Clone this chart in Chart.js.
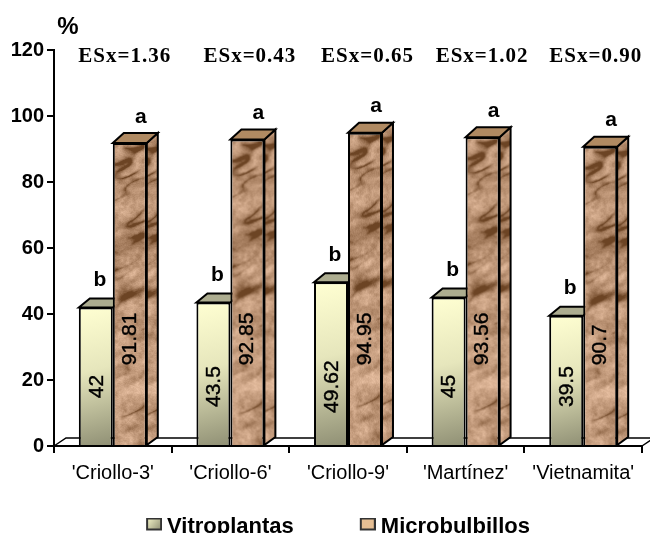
<!DOCTYPE html>
<html>
<head>
<meta charset="utf-8">
<style>
  html, body { margin: 0; padding: 0; background: #fff; overflow: hidden; }
  canvas { display: block; }
</style>
<script src="https://cdn.jsdelivr.net/npm/chart.js@4"></script>
</head>
<body>
<canvas id="myChart" width="650" height="533"></canvas>
<script>
const categories = ["'Criollo-3'", "'Criollo-6'", "'Criollo-9'", "'Martínez'", "'Vietnamita'"]
const vitroValues = [42, 43.5, 49.62, 45, 39.5]
const microValues = [91.81, 92.85, 94.95, 93.56, 90.7]
const vitroLetters = ['b', 'b', 'b', 'b', 'b']
const microLetters = ['a', 'a', 'a', 'a', 'a']
const esxLabels = ['ESx=1.36', 'ESx=0.43', 'ESx=0.65', 'ESx=1.02', 'ESx=0.90']

const SANS = '"Liberation Sans", Arial, sans-serif'
const SERIF = '"Liberation Serif", "Times New Roman", serif'
const DEPTH_X = 11
const DEPTH_Y = 9
const esxShift = [12, 19.5, 19.5, 16.5, 12.5]

// stone look for the Microbulbillos bars, same tile in every bar
function hash(x, y) {
    const s = Math.sin(x * 127.1 + y * 311.7) * 43758.5453
    return s - Math.floor(s)
}

function noise(x, y) {
    const ix = Math.floor(x), iy = Math.floor(y)
    let fx = x - ix, fy = y - iy
    fx = fx * fx * (3 - 2 * fx)
    fy = fy * fy * (3 - 2 * fy)
    const a = hash(ix, iy), b = hash(ix + 1, iy), c = hash(ix, iy + 1), d = hash(ix + 1, iy + 1)
    return a + (b - a) * fx + (c - a) * fy + (a - b - c + d) * fx * fy
}

function makeStone(w, h) {
    const c = document.createElement('canvas')
    c.width = w
    c.height = h
    const g = c.getContext('2d')
    const img = g.createImageData(w, h)
    for (let y = 0; y < h; y++) {
        for (let x = 0; x < w; x++) {
            // lean the coords so the dark smudges run down to the right
            const u = x * 0.85 - y * 0.45
            const v = y * 0.9 + x * 0.45
            const big = noise(u / 22, v / 11)
            const mid = noise(u / 10 + 7, v / 6)
            const fine = noise(x / 3, y / 3)
            const mask = Math.max(0, noise(u / 18 + 3, v / 16 + 9) - 0.45) * 2.6
            const smudge = Math.pow(1 - Math.abs(noise(u / 20 + 11, v / 8) * 2 - 1), 4) * mask
            const grain = hash(x, y)
            let t = 0.2 + big * 0.38 + mid * 0.28 + fine * 0.2 - smudge * 0.9 + (grain - 0.5) * 0.12
            t = Math.min(1, Math.max(0, t))
            const i = (x + y * w) * 4
            img.data[i] = 108 + t * 132
            img.data[i + 1] = 68 + t * 132
            img.data[i + 2] = 36 + t * 134
            img.data[i + 3] = 255
        }
    }
    g.putImageData(img, 0, 0)
    return c
}

const stone = makeStone(64, 330)

function stoneFill(chart, left, top) {
    const p = chart.ctx.createPattern(stone, 'repeat')
    p.setTransform(new DOMMatrix().translate(left, top))
    return p
}

// legend swatch, box sits right and high in the image so it lines up with the text
function makeSwatch(paint) {
    const c = document.createElement('canvas')
    c.width = 22
    c.height = 19
    const g = c.getContext('2d')
    paint(g)
    g.fillRect(7, 1, 14, 11)
    g.lineWidth = 2
    g.strokeStyle = '#333'
    g.strokeRect(7, 1, 14, 11)
    return c
}

const vitroSwatch = makeSwatch(g => {
    const f = g.createLinearGradient(7, 1, 21, 12)
    f.addColorStop(0, '#f4f4c8')
    f.addColorStop(1, '#8f8f74')
    g.fillStyle = f
})
const microSwatch = makeSwatch(g => { g.fillStyle = '#e6bf94' })

function face(ctx, pts, fill) {
    ctx.beginPath()
    pts.forEach((p, i) => i ? ctx.lineTo(p[0], p[1]) : ctx.moveTo(p[0], p[1]))
    ctx.closePath()
    ctx.fillStyle = fill
    ctx.fill()
    ctx.lineWidth = 2
    ctx.strokeStyle = '#000'
    ctx.stroke()
}

const floorAndDepth = {
    id: 'floorAndDepth',
    afterLayout(chart) {
        const l = chart.legend
        l.top = 516 - l.options.labels.padding
        l.left += 17
        l.right += 17
    },
    beforeDatasetsDraw(chart) {
        const ctx = chart.ctx
        const area = chart.chartArea
        ctx.save()
        // floor, runs past the canvas on the right like the picture
        ctx.beginPath()
        ctx.moveTo(area.left, area.bottom)
        ctx.lineTo(area.left + 12, area.bottom - 8)
        ctx.lineTo(area.right + 12, area.bottom - 8)
        ctx.lineTo(area.right, area.bottom)
        ctx.lineWidth = 1.5
        ctx.strokeStyle = '#000'
        ctx.stroke()
        chart.data.datasets.forEach((ds, d) => {
            chart.getDatasetMeta(d).data.forEach(bar => {
                const l = bar.x - bar.width / 2
                const r = bar.x + bar.width / 2
                const t = bar.y
                const b = bar.base
                if (d == 1) {
                    face(ctx, [[r, t], [r + DEPTH_X, t - DEPTH_Y - 1], [r + DEPTH_X, b - 8], [r, b]], stoneFill(chart, r - 16, t))
                    face(ctx, [[l, t], [l + DEPTH_X, t - DEPTH_Y - 1], [r + DEPTH_X, t - DEPTH_Y - 1], [r, t]], '#b08a62')
                } else {
                    face(ctx, [[l, t], [l + DEPTH_X, t - DEPTH_Y], [r + DEPTH_X, t - DEPTH_Y], [r, t]], '#adad90')
                }
            })
        })
        ctx.restore()
    },
    afterDatasetsDraw(chart) {
        const ctx = chart.ctx
        const y = chart.scales.y
        ctx.save()
        ctx.fillStyle = '#000'
        ctx.strokeStyle = '#000'
        ctx.lineWidth = 0.4
        ctx.textBaseline = 'middle'
        vitroValues.forEach((v, i) => {
            const bar = chart.getDatasetMeta(0).data[i]
            ctx.save()
            ctx.translate(bar.x + 1, y.getPixelForValue(18))
            ctx.rotate(-Math.PI / 2)
            ctx.textAlign = 'center'
            ctx.font = '21px ' + SANS
            ctx.fillText(String(v), 0, 0)
            ctx.strokeText(String(v), 0, 0)
            ctx.restore()
            ctx.textAlign = 'center'
            ctx.font = 'bold 21px ' + SANS
            ctx.fillText(vitroLetters[i], bar.x + 4, bar.y - 27)
        })
        microValues.forEach((v, i) => {
            const bar = chart.getDatasetMeta(1).data[i]
            ctx.save()
            ctx.translate(bar.x, y.getPixelForValue(24.5))
            ctx.rotate(-Math.PI / 2)
            ctx.textAlign = 'left'
            ctx.font = '21px ' + SANS
            ctx.fillText(String(v), 0, 0)
            ctx.strokeText(String(v), 0, 0)
            ctx.restore()
            ctx.textAlign = 'center'
            ctx.font = 'bold 21px ' + SANS
            ctx.fillText(microLetters[i], bar.x + 11, bar.y - 26)
        })
        ctx.font = 'bold 21px ' + SERIF
        ctx.letterSpacing = '1px'
        esxLabels.forEach((s, i) => {
            ctx.fillText(s, chart.scales.x.getPixelForValue(i) + esxShift[i], 57)
        })
        ctx.letterSpacing = '0px'
        ctx.font = 'bold 24px ' + SANS
        ctx.fillText('%', 68, 27)
        ctx.restore()
    }
}

const data = {
    labels: categories,
    datasets: [{
        label: 'Vitroplantas',
        data: vitroValues,
        backgroundColor: c => {
            const chart = c.chart
            if (!chart.chartArea || c.dataIndex === undefined) return '#d8d8b0'
            const cx = chart.scales.x.getPixelForValue(c.dataIndex)
            const top = chart.scales.y.getPixelForValue(vitroValues[c.dataIndex])
            const g = chart.ctx.createLinearGradient(cx - 34, top, cx, chart.chartArea.bottom)
            g.addColorStop(0, '#ffffd2')
            g.addColorStop(0.45, '#e6e6bc')
            g.addColorStop(1, '#8f8f74')
            return g
        },
        borderColor: '#000',
        borderWidth: 2
    }, {
        label: 'Microbulbillos',
        data: microValues,
        backgroundColor: c => {
            const chart = c.chart
            if (!chart.chartArea || c.dataIndex === undefined) return '#b88c64'
            const cx = chart.scales.x.getPixelForValue(c.dataIndex)
            return stoneFill(chart, cx, chart.scales.y.getPixelForValue(microValues[c.dataIndex]))
        },
        borderColor: '#000',
        borderWidth: 2
    }]
}

const config = {
    type: 'bar',
    data,
    plugins: [floorAndDepth],
    options: {
        responsive: false,
        animation: false,
        layout: { padding: { top: 50, right: 8 } },
        datasets: { bar: { categoryPercentage: 0.578, barPercentage: 1 } },
        scales: {
            x: {
                afterFit: s => { s.height = 67 },
                border: { color: '#000', width: 2 },
                grid: { drawOnChartArea: false, color: '#000', lineWidth: 2, tickLength: 7 },
                ticks: { color: '#000', padding: 8, maxRotation: 0, font: { family: SANS, size: 20 } }
            },
            y: {
                min: 0,
                max: 120,
                afterFit: s => { s.width = 54 },
                border: { color: '#000', width: 2 },
                grid: { drawOnChartArea: false, color: '#000', lineWidth: 2, tickLength: 7 },
                ticks: { stepSize: 20, color: '#000', padding: 3, font: { family: SANS, size: 20, weight: 'bold' } }
            }
        },
        plugins: {
            tooltip: { enabled: false },
            legend: {
                position: 'bottom',
                maxHeight: 20,
                labels: {
                    padding: 66,
                    boxWidth: 10,
                    boxHeight: 13,
                    usePointStyle: true,
                    color: '#000',
                    font: { family: SANS, size: 22, weight: 'bold' },
                    generateLabels: chart => chart.data.datasets.map((ds, i) => ({
                        text: ds.label,
                        pointStyle: i ? microSwatch : vitroSwatch,
                        datasetIndex: i
                    }))
                }
            }
        }
    }
}

var myChart = new Chart(document.getElementById('myChart'), config)
</script>
</body>
</html>
